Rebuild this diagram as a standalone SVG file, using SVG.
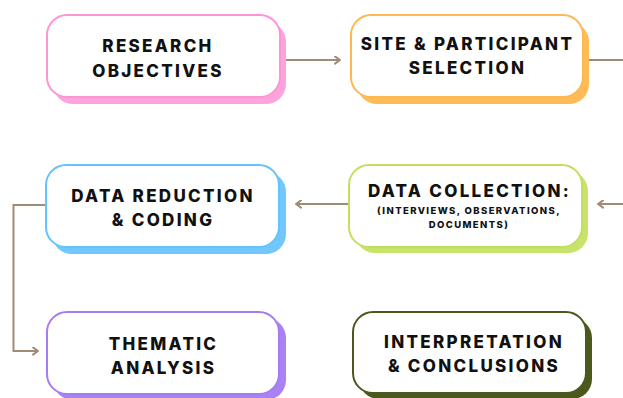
<svg xmlns="http://www.w3.org/2000/svg" width="623" height="398" viewBox="0 0 623 398">
  <defs>
    <style>
      .box { fill: #ffffff; stroke-width: 2; }
      .title { font-family: Inter, "Liberation Sans", sans-serif; font-weight: 800; font-size: 17px; letter-spacing: 2.3px; fill: #111111; text-anchor: middle; }
      .sub { font-family: Inter, "Liberation Sans", sans-serif; font-weight: 800; font-size: 9.5px; letter-spacing: 1.4px; fill: #111111; text-anchor: middle; }
      .link { fill: none; stroke: #a08b74; stroke-width: 2; }
    </style>
    <marker id="arrow" viewBox="0 0 10 10" refX="9" refY="5" markerWidth="9" markerHeight="9" orient="auto" markerUnits="userSpaceOnUse">
      <path d="M3.5,1 L9,5 L3.5,9" fill="none" stroke="#a08b74" stroke-width="2.2" stroke-linecap="round" stroke-linejoin="round"/>
    </marker>
  </defs>
  <rect width="623" height="398" fill="#ffffff"/>

  <!-- connectors -->
  <g id="connectors">
    <path class="link" d="M286,60 L340,60" marker-end="url(#arrow)"/>
    <path class="link" d="M589,60 L623,60"/>
    <path class="link" d="M623,204 L598,204" marker-end="url(#arrow)"/>
    <path class="link" d="M349,204 L296,204" marker-end="url(#arrow)"/>
    <path class="link" d="M46,205 L13.5,205 L13.5,351 L38,351" marker-end="url(#arrow)"/>
  </g>

  <!-- Research objectives -->
  <g id="research-objectives">
    <rect x="53" y="22" width="233" height="82" rx="20" fill="#ffa3dc"/>
    <rect class="box" x="47" y="15" width="233" height="82" rx="20" stroke="#ff94d4"/>
    <text class="title" x="158" y="51.5">RESEARCH</text>
    <text class="title" x="158" y="76.5">OBJECTIVES</text>
  </g>

  <!-- Site & participant selection -->
  <g id="site-selection">
    <rect x="357" y="22" width="232" height="82" rx="20" fill="#ffbb55"/>
    <rect class="box" x="351" y="15" width="232" height="82" rx="20" stroke="#ffb84f"/>
    <text class="title" x="467.5" y="50">SITE &amp; PARTICIPANT</text>
    <text class="title" x="467.5" y="74">SELECTION</text>
  </g>

  <!-- Data collection -->
  <g id="data-collection">
    <rect x="355" y="171" width="233" height="82" rx="20" fill="#c8e36a"/>
    <rect class="box" x="349" y="165" width="233" height="82" rx="20" stroke="#c3df60"/>
    <text class="title" x="469.5" y="196.5">DATA COLLECTION:</text>
    <text class="sub" x="469" y="213.5">(INTERVIEWS, OBSERVATIONS,</text>
    <text class="sub" x="469" y="227.5">DOCUMENTS)</text>
  </g>

  <!-- Data reduction & coding -->
  <g id="data-reduction">
    <rect x="52" y="172" width="234" height="82" rx="20" fill="#70c8ff"/>
    <rect class="box" x="46" y="165" width="233" height="82" rx="20" stroke="#66c2ff"/>
    <text class="title" x="163" y="201.5">DATA REDUCTION</text>
    <text class="title" x="163" y="226">&amp; CODING</text>
  </g>

  <!-- Thematic analysis -->
  <g id="thematic-analysis">
    <rect x="53" y="318" width="233" height="82" rx="20" fill="#a982f5"/>
    <rect class="box" x="47" y="312" width="232" height="82" rx="20" stroke="#a57cf4"/>
    <text class="title" x="163.5" y="350">THEMATIC</text>
    <text class="title" x="163.5" y="373.5">ANALYSIS</text>
  </g>

  <!-- Interpretation & conclusions -->
  <g id="interpretation">
    <rect x="359" y="318" width="233" height="81" rx="20" fill="#4b5a1c"/>
    <rect class="box" x="353" y="312" width="233" height="81" rx="20" stroke="#4b5a1c"/>
    <text class="title" x="474" y="347.5">INTERPRETATION</text>
    <text class="title" x="474" y="371.5">&amp; CONCLUSIONS</text>
  </g>
</svg>
